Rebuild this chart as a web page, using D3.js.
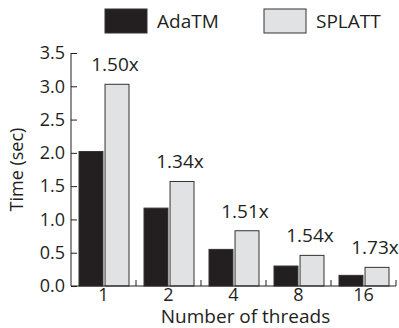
<!DOCTYPE html>
<html>
<head>
<meta charset="utf-8">
<script src="https://cdn.jsdelivr.net/npm/d3@7"></script>
<style>
  body { margin: 0; background: #fff; }
  text { font-family: "Open Sans", sans-serif; fill: #231f20; }
</style>
</head>
<body>
<div id="chart"></div>
<script>
const threads = ["1", "2", "4", "8", "16"];
const series = ["AdaTM", "SPLATT"];
const adatm = [2.02, 1.17, 0.55, 0.30, 0.16];
const splatt = [3.03, 1.57, 0.83, 0.46, 0.28];
const speedups = ["1.50x", "1.34x", "1.51x", "1.54x", "1.73x"];
const yTicks = [0, 0.5, 1.0, 1.5, 2.0, 2.5, 3.0, 3.5];

const w = 399, h = 328;
const colors = {AdaTM: "#231f20", SPLATT: "#e1e2e4"};

const svg = d3.select("#chart").append("svg")
  .attr("width", w)
  .attr("height", h);

const x = d3.scaleBand().domain(threads).range([71, 396]);
const xs = d3.scaleBand().domain(series).range([8, 58]).paddingInner(0.08);
const y = d3.scaleLinear().domain([0, 3.5]).range([286, 53]);

const rows = threads.map((t, i) => ({t: t, AdaTM: adatm[i], SPLATT: splatt[i], label: speedups[i]}));

// bars
const g = svg.selectAll("g.cat").data(rows).enter().append("g")
  .attr("class", "cat")
  .attr("transform", d => "translate(" + x(d.t) + ",0)");

g.selectAll("rect").data(d => series.map(s => ({s: s, v: d[s]}))).enter().append("rect")
  .attr("x", d => xs(d.s))
  .attr("y", d => y(d.v))
  .attr("width", xs.bandwidth())
  .attr("height", d => y(0) - y(d.v))
  .attr("fill", d => colors[d.s])
  .attr("stroke", "#333")
  .attr("stroke-width", 1);

// speedup labels above SPLATT bars
g.append("text")
  .attr("x", xs("SPLATT") + xs.bandwidth() / 2 - 2)
  .attr("y", d => y(d.SPLATT) - 13)
  .attr("text-anchor", "middle")
  .style("font-size", "19px")
  .text(d => d.label);

// y axis, ticks pointing inward
const yAxis = svg.append("g")
  .attr("transform", "translate(71,0)")
  .call(d3.axisLeft(y).tickValues(yTicks).tickFormat(d3.format(".1f"))
    .tickSizeInner(-6).tickSizeOuter(0).tickPadding(6));
yAxis.selectAll("text").style("font-size", "18px").attr("fill", "#231f20");
yAxis.selectAll("line, path").attr("stroke", "#231f20");
yAxis.select(".domain").remove();

// x axis
const xAxis = svg.append("g")
  .attr("transform", "translate(0,286)")
  .call(d3.axisBottom(x).tickSize(0).tickPadding(2));
xAxis.selectAll("text").style("font-size", "18px").attr("fill", "#231f20");
xAxis.select(".domain").remove();

// axis lines and boundary ticks
svg.append("line")
  .attr("x1", 71).attr("x2", 71).attr("y1", y(3.5)).attr("y2", y(0))
  .attr("stroke", "#231f20");
svg.append("line")
  .attr("x1", 71).attr("x2", 396).attr("y1", y(0)).attr("y2", y(0))
  .attr("stroke", "#231f20");
svg.selectAll("line.bt").data(threads.slice(1).concat(["end"])).enter().append("line")
  .attr("class", "bt")
  .attr("x1", d => d === "end" ? 396 : x(d))
  .attr("x2", d => d === "end" ? 396 : x(d))
  .attr("y1", y(0)).attr("y2", y(0) - 6)
  .attr("stroke", "#231f20");

// axis titles
svg.append("text")
  .attr("transform", "translate(23," + (y(0) + y(3.5)) / 2 + ") rotate(-90)")
  .attr("text-anchor", "middle")
  .style("font-size", "18px")
  .text("Time (sec)");

svg.append("text")
  .attr("x", (71 + 396) / 2 + 12)
  .attr("y", 323)
  .attr("text-anchor", "middle")
  .style("font-size", "19px")
  .text("Number of threads");

// legend
const legX = [105, 264];
const leg = svg.selectAll("g.leg").data(series).enter().append("g")
  .attr("class", "leg")
  .attr("transform", (d, i) => "translate(" + legX[i] + ",9)");
leg.append("rect")
  .attr("width", 42).attr("height", 24)
  .attr("fill", d => colors[d])
  .attr("stroke", "#333");
leg.append("text")
  .attr("x", 52).attr("y", 19)
  .style("font-size", "19px")
  .text(d => d);
</script>
</body>
</html>
